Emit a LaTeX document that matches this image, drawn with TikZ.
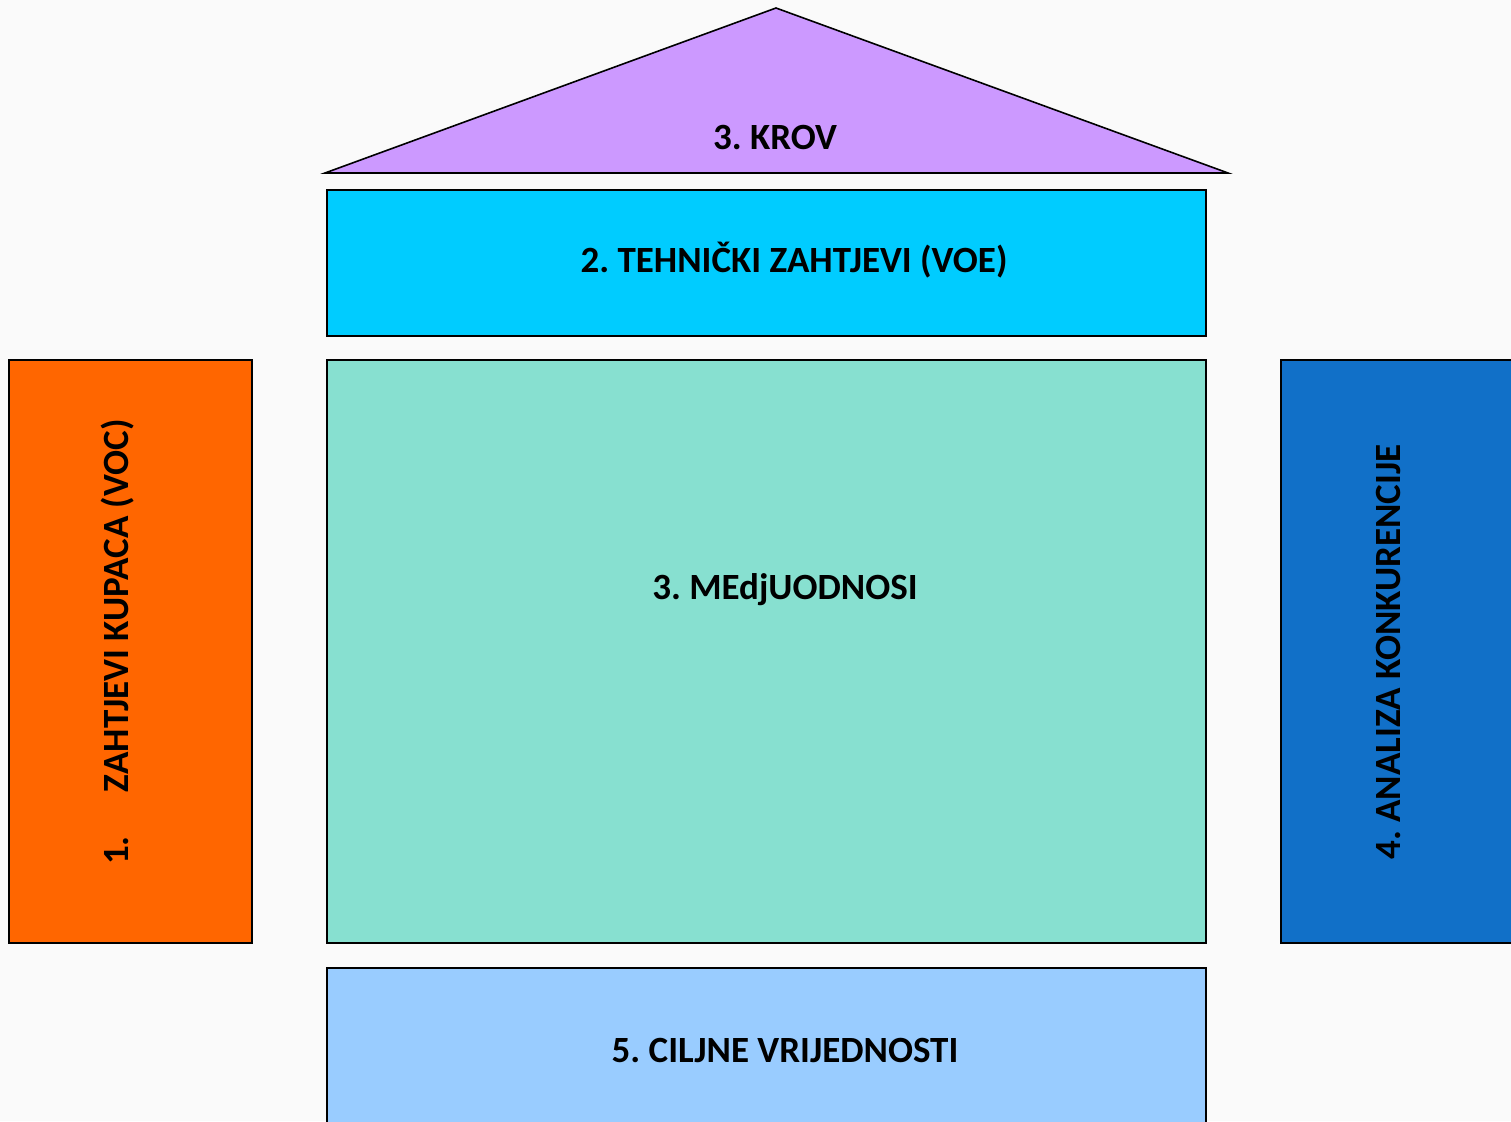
\documentclass[tikz,border=0pt]{standalone}
\usepackage{fontspec}
\setmainfont{Carlito}
\begin{document}
\frenchspacing
\begin{tikzpicture}[x=1pt,y=-1pt,
  blk/.style={draw=black,line width=1.6pt},
  lbl/.style={font=\fontsize{37}{40}\selectfont\bfseries\frenchspacing,text=black,inner sep=0pt}]
\useasboundingbox (0,0) rectangle (1511,1121);
\fill[fill={rgb,255:red,250;green,250;blue,250}] (0,0) rectangle (1511,1121);
\begin{scope}
\clip (0,0) rectangle (1511,1121);
\definecolor{roofc}{RGB}{204,153,255}
\definecolor{techc}{RGB}{0,204,255}
\definecolor{midc}{RGB}{135,224,208}
\definecolor{leftc}{RGB}{255,102,0}
\definecolor{rightc}{RGB}{17,112,200}
\definecolor{botc}{RGB}{153,204,255}
\draw[blk,fill=roofc,line join=miter] (325,173) -- (776,8) -- (1228,173) -- cycle;
\node[lbl] (roof) at (775,137) {3. KROV};
\draw[blk,fill=techc] (327,190) rectangle (1206,336);
\node[lbl] (tech) at (794,260) {2. TEHNIČKI ZAHTJEVI (VOE)};
\draw[blk,fill=midc] (327,360) rectangle (1206,943);
\node[lbl] (mid) at (785,590) {3. MEdjUODNOSI};
\draw[blk,fill=leftc] (9,360) rectangle (252,943);
\node[lbl,rotate=90] (left) at (118,642) {1.\hspace{44pt}ZAHTJEVI KUPACA (VOC)};
\draw[blk,fill=rightc] (1281,360) rectangle (1530,943);
\node[lbl,rotate=90] (right) at (1388,652) {4. ANALIZA KONKURENCIJE};
\draw[blk,fill=botc] (327,968) rectangle (1206,1140);
\node[lbl] (bot) at (785,1050) {5. CILJNE VRIJEDNOSTI};
\end{scope}
\end{tikzpicture}
\end{document}
